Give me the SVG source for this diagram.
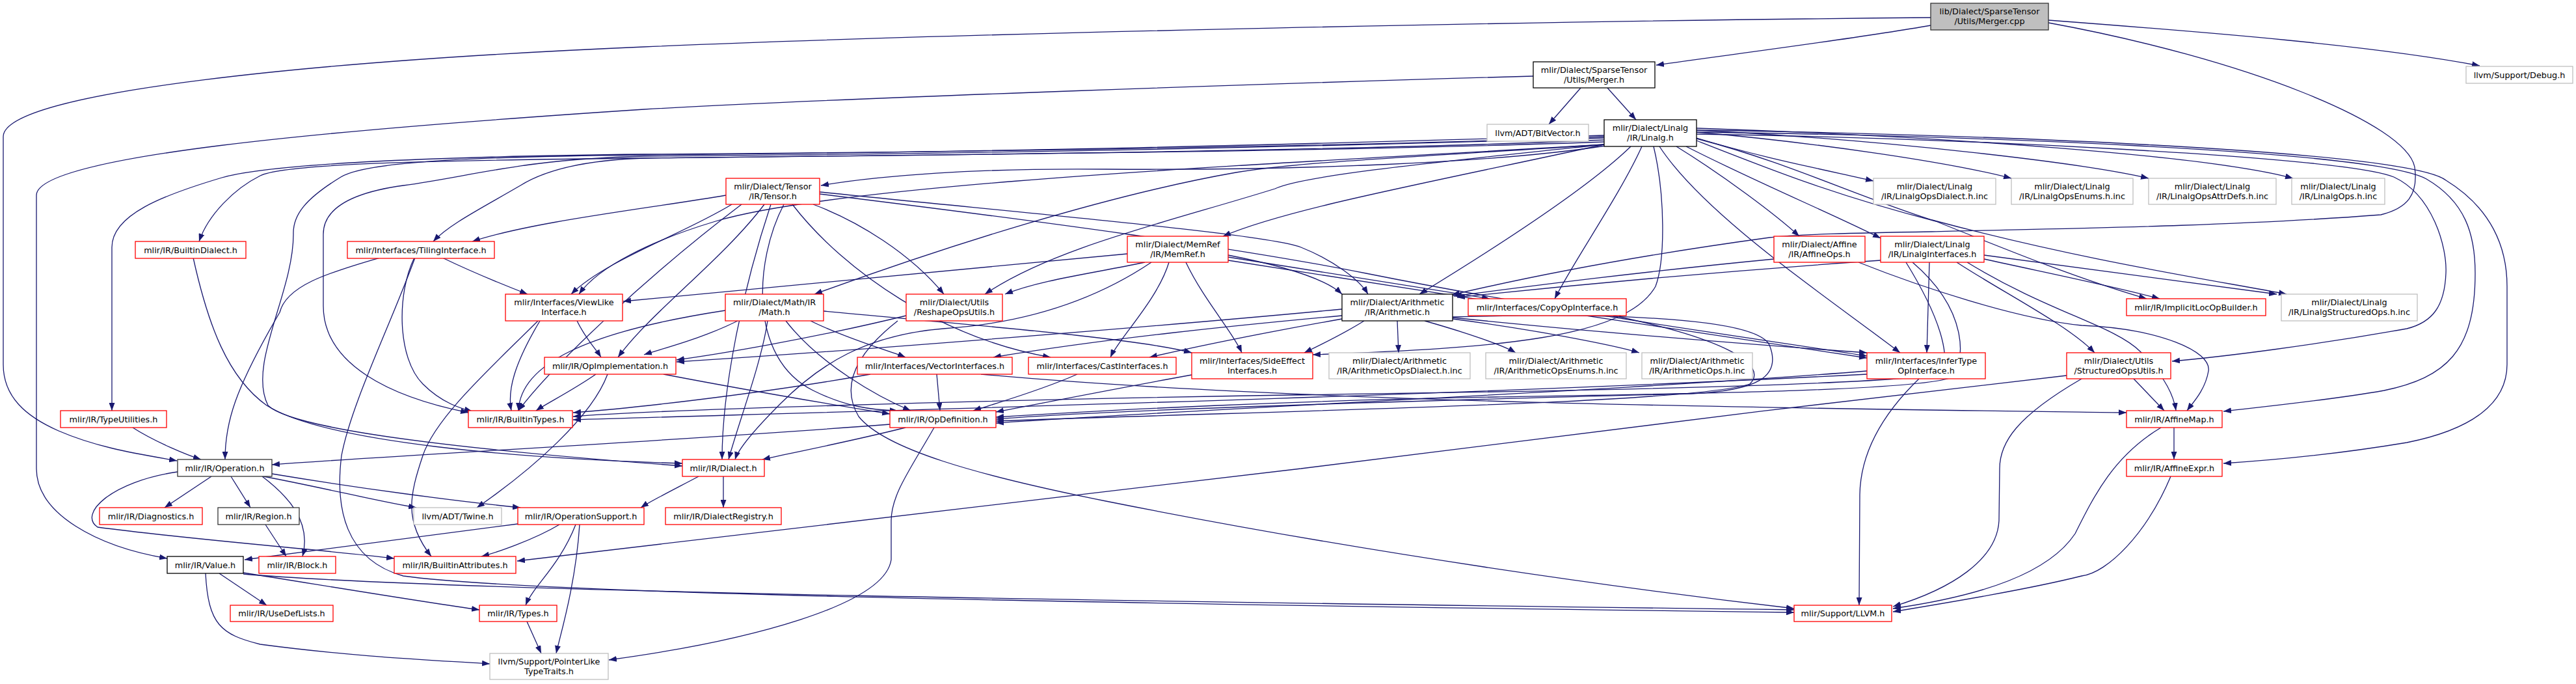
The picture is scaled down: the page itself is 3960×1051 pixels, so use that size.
<svg xmlns="http://www.w3.org/2000/svg" width="3960" height="1051" viewBox="0 0 3960 1051">
<defs>
<marker id="a" viewBox="0 0 12 9" refX="12" refY="4.5" markerWidth="12" markerHeight="9" markerUnits="userSpaceOnUse" orient="auto"><path d="M0,0 L12,4.5 L0,9 z" fill="#191970"/></marker>
</defs>
<style>
rect{fill:#fff;stroke-width:1.3}
.r rect{stroke:#ff0000}
.k rect{stroke:#000}
.g rect{stroke:#bfbfbf}
.d rect{stroke:#333}
text{font-family:"DejaVu Sans",sans-serif;font-size:12.8px;text-anchor:middle;fill:#000}
#edges path{fill:none;stroke:#191970;stroke-width:1.3;marker-end:url(#a)}
</style>
<rect x="0" y="0" width="3960" height="1051" style="fill:#fff;stroke:none"/>
<g id="edges">
<path d="M2968,39 C2850,60 2650,85 2546,100"/>
<path d="M3149,31 C3400,50 3650,70 3812,101"/>
<path d="M2968,27 C2400,32 1500,50 990,72 C500,93 5,140 5,210 L5,560 C5,610 40,640 90,662 C150,688 210,697 272,708"/>
<path d="M3149,35 C3450,90 3700,190 3712,257 C3718,300 3700,320 3660,330 C3400,350 3100,352 2970,356 C2850,358 2760,360 2720,365 C2500,395 2330,430 2232,453"/>
<path d="M2430,135 L2381,191"/>
<path d="M2471,135 L2515,184"/>
<path d="M2357,117 C2000,127 1300,150 990,168 C500,200 56,240 56,300 L56,720 C56,790 150,840 257,858"/>
<path d="M2468,224 C2300,250 2000,262 1700,260 C1500,258 1350,270 1262,285"/>
<path d="M2466,215 C2000,235 1200,240 990,243 C700,246 440,250 400,270 C360,290 320,330 306,371"/>
<path d="M2466,210 C2000,228 1300,235 990,237 C700,240 420,250 341,273 C250,300 172,330 172,380 L172,631"/>
<path d="M2466,218 C2000,235 1200,240 990,243 C900,246 840,260 800,285 C740,320 690,345 666,371"/>
<path d="M1116,300 C1000,320 820,340 726,371"/>
<path d="M2466,222 C2000,250 1300,280 1100,340 C1000,370 920,410 890,452"/>
<path d="M1125,314 C1050,360 930,400 878,452"/>
<path d="M2466,212 C1800,232 1300,238 990,240 C800,245 730,270 620,285 C540,296 497,320 497,360 L497,470 C497,560 600,610 720,634"/>
<path d="M2466,208 C1800,228 1300,236 990,238 C700,241 560,250 524,272 C470,305 450,330 451,360 C451,450 380,560 412,623 C450,660 700,690 1049,716"/>
<path d="M2466,222 C2200,280 1980,320 1880,363"/>
<path d="M2466,222 C2200,240 2000,248 1900,265 C1700,300 1450,380 1252,452"/>
<path d="M2466,222 C2200,250 2000,270 1960,290 C1800,340 1620,380 1514,452"/>
<path d="M1250,314 C1320,340 1400,390 1451,452"/>
<path d="M1760,403 C1680,420 1600,430 1545,452"/>
<path d="M2507,225 C2440,290 2300,380 2182,452"/>
<path d="M2524,225 C2490,300 2420,400 2390,459"/>
<path d="M2542,225 C2560,300 2560,400 2545,440 C2500,520 2300,535 2018,545"/>
<path d="M2577,225 C2650,270 2730,330 2766,363"/>
<path d="M2592,225 C2700,280 2820,330 2891,366"/>
<path d="M2551,225 C2620,330 2800,450 2921,542"/>
<path d="M2608,212 C2700,240 2800,260 2880,278"/>
<path d="M2608,203 C2800,220 3000,250 3092,274"/>
<path d="M2608,200 C2900,215 3200,250 3303,274"/>
<path d="M2608,197 C3000,210 3400,240 3525,274"/>
<path d="M2608,213 C2750,250 2850,300 2970,338 C3200,400 3400,430 3515,452"/>
<path d="M2608,216 C2720,260 2820,300 2976,340 C3100,390 3200,430 3300,459"/>
<path d="M2608,206 C3000,212 3600,240 3680,272 C3740,300 3762,380 3760,420 C3758,470 3740,495 3700,505 C3560,530 3420,548 3339,555"/>
<path d="M2608,203 C3000,208 3650,230 3730,275 C3790,310 3805,360 3805,420 C3805,540 3760,580 3665,600 C3580,615 3480,625 3418,632"/>
<path d="M2608,200 C3000,205 3700,230 3760,277 C3830,320 3854,380 3854,440 L3854,560 C3854,620 3800,660 3700,680 C3580,700 3480,708 3418,712"/>
<path d="M1140,314 C1000,420 850,560 797,631"/>
<path d="M1175,314 C1110,400 1000,480 950,549"/>
<path d="M1205,314 C1160,400 1150,550 1250,600 C1300,625 1340,630 1380,631"/>
<path d="M1185,314 C1140,450 1110,600 1110,706"/>
<path d="M1218,314 C1300,420 1450,520 1615,549"/>
<path d="M1260,295 C1600,330 1950,360 2000,380 C2050,400 2090,430 2103,452"/>
<path d="M1260,298 C1600,340 1900,380 2100,420 C2400,480 2700,520 2870,547"/>
<path d="M1733,390 L958,463"/>
<path d="M1770,403 C1700,450 1600,495 1450,505 C1330,515 1260,560 1200,620 C1160,660 1135,690 1130,706"/>
<path d="M1797,403 C1780,460 1720,520 1707,549"/>
<path d="M1823,403 C1850,460 1895,510 1909,542"/>
<path d="M1888,395 C2050,420 2200,445 2290,459"/>
<path d="M1888,400 C2200,450 2600,510 2870,550"/>
<path d="M1888,392 C1980,410 2040,430 2063,452"/>
<path d="M2727,398 C2500,420 2350,440 2235,455"/>
<path d="M2857,403 C2950,440 3100,490 3200,500 C3320,505 3400,540 3395,570 C3390,600 3370,620 3362,631"/>
<path d="M2891,400 C2600,420 2400,440 2240,457"/>
<path d="M2966,403 L2962,542"/>
<path d="M3050,398 C3150,420 3250,440 3320,459"/>
<path d="M3050,392 C3250,420 3400,440 3500,452"/>
<path d="M3008,403 C3080,450 3180,500 3220,542"/>
<path d="M3024,403 C3150,480 3250,500 3290,540 C3330,580 3342,610 3345,631"/>
<path d="M2930,403 C2990,500 3000,560 2980,575 C2900,590 2500,600 1980,607 C1500,615 1000,630 881,640"/>
<path d="M2940,403 C3030,480 3020,560 3000,580 C2950,600 2600,605 2300,610 C2000,615 1700,630 1531,641"/>
<path d="M2148,493 L2150,542"/>
<path d="M2190,493 C2250,510 2310,530 2330,542"/>
<path d="M2233,490 C2350,505 2480,530 2520,542"/>
<path d="M2097,493 C2070,510 2030,530 2005,542"/>
<path d="M2233,488 C2450,510 2700,530 2870,542"/>
<path d="M2063,475 C1800,500 1300,540 1040,556"/>
<path d="M2063,485 C1900,500 1700,520 1527,549"/>
<path d="M2063,490 C1950,510 1850,530 1767,549"/>
<path d="M2233,487 C2500,480 2700,490 2720,530 C2740,580 2700,600 2600,605 C2200,615 1700,630 1531,644"/>
<path d="M2480,485 C2650,520 2720,560 2690,590 C2600,620 2000,630 1531,647"/>
<path d="M2870,570 C2500,600 1900,625 1531,650"/>
<path d="M2870,575 C2200,610 1200,635 881,645"/>
<path d="M2950,582 C2890,640 2860,700 2859,760 L2858,930"/>
<path d="M3280,582 L3327,631"/>
<path d="M3200,582 C3100,640 3074,680 3074,720 L3073,800 C3070,860 3000,905 2910,932"/>
<path d="M3177,577 C2800,620 2300,680 2000,720 C1500,780 1000,840 795,862"/>
<path d="M1115,477 C900,510 800,560 797,631"/>
<path d="M1134,493 C1080,520 1020,535 990,545"/>
<path d="M1180,493 C1170,560 1135,650 1120,706"/>
<path d="M1208,493 C1260,560 1350,610 1400,631"/>
<path d="M1246,493 C1300,520 1370,540 1392,549"/>
<path d="M1266,478 C1500,500 1750,520 1832,542"/>
<path d="M1393,485 C1250,520 1100,545 1040,553"/>
<path d="M1380,493 C1320,540 1290,590 1320,640 C1360,690 1500,730 1700,770 C2100,850 2500,905 2758,935"/>
<path d="M680,396 C730,420 780,440 811,452"/>
<path d="M637,396 C610,450 610,550 650,590 C680,620 710,628 726,632"/>
<path d="M584,396 C500,420 440,440 430,480 C360,600 346,650 346,706"/>
<path d="M638,396 C600,500 540,620 525,700 C515,780 530,860 620,885 C800,910 1500,925 2758,941"/>
<path d="M887,493 C900,520 915,535 924,549"/>
<path d="M830,493 C790,560 780,600 786,631"/>
<path d="M827,493 C760,560 670,640 650,700 C630,760 620,800 663,855"/>
<path d="M297,396 C320,500 350,580 410,623 C500,680 800,705 1049,712"/>
<path d="M204,657 C240,680 290,700 309,706"/>
<path d="M916,575 C880,600 840,620 824,631"/>
<path d="M1020,575 C1150,600 1300,625 1368,636"/>
<path d="M934,575 C910,640 820,720 733,780"/>
<path d="M1338,575 C1200,600 1000,625 881,634"/>
<path d="M1440,575 L1445,631"/>
<path d="M1508,575 C2000,620 2800,628 3269,634"/>
<path d="M1656,575 C1600,600 1530,620 1496,631"/>
<path d="M1832,576 C1700,600 1600,620 1531,633"/>
<path d="M1368,652 C1000,680 600,700 418,714"/>
<path d="M1392,657 C1300,680 1220,695 1172,706"/>
<path d="M1436,657 C1400,720 1370,760 1370,800 L1370,860 C1360,930 1150,985 936,1014"/>
<path d="M1074,732 C1040,750 1000,770 985,780"/>
<path d="M1112,732 L1112,780"/>
<path d="M3342,657 L3342,706"/>
<path d="M3322,657 C3250,700 3220,760 3190,820 C3150,880 3050,915 2910,935"/>
<path d="M3337,732 C3300,820 3240,880 3200,885 C3120,905 3000,925 2910,940"/>
<path d="M325,732 L253,780"/>
<path d="M355,732 L385,780"/>
<path d="M403,732 C440,760 480,800 465,855"/>
<path d="M405,732 C500,750 580,770 640,780"/>
<path d="M418,728 C550,750 700,770 800,780"/>
<path d="M273,725 C170,740 120,790 150,810 C300,830 500,845 606,858"/>
<path d="M408,806 L440,855"/>
<path d="M796,805 C600,830 450,850 376,860"/>
<path d="M860,806 C820,830 760,850 740,855"/>
<path d="M885,806 C860,870 820,900 808,930"/>
<path d="M891,806 C885,900 860,980 855,1004"/>
<path d="M337,881 L410,930"/>
<path d="M374,880 C500,900 650,925 737,937"/>
<path d="M316,881 C320,960 340,975 400,990 C550,1010 680,1015 753,1020"/>
<path d="M374,882 C700,910 1800,925 2758,937"/>
<path d="M810,955 L832,1004"/>
</g>
<g id="mcpp"><rect x="2968" y="5" width="181" height="41" style="fill:#bfbfbf;stroke:#333"/><text x="3058.5" y="21.5">lib/Dialect/SparseTensor</text><text x="3058.5" y="36.5">/Utils/Merger.cpp</text></g>
<g id="debug" class="g"><rect x="3791" y="102" width="164" height="26"/><text x="3873" y="119.5">llvm/Support/Debug.h</text></g>
<g id="mergerh" class="k"><rect x="2357" y="95" width="187" height="40"/><text x="2450.5" y="111.5">mlir/Dialect/SparseTensor</text><text x="2450.5" y="126.5">/Utils/Merger.h</text></g>
<g id="bitvector" class="g"><rect x="2286" y="191" width="156" height="26"/><text x="2364" y="208.5">llvm/ADT/BitVector.h</text></g>
<g id="linalg" class="k"><rect x="2466" y="184" width="142" height="41"/><text x="2537" y="200.5">mlir/Dialect/Linalg</text><text x="2537" y="215.5">/IR/Linalg.h</text></g>
<g id="tensor" class="r"><rect x="1116" y="274" width="144" height="40"/><text x="1188" y="290.5">mlir/Dialect/Tensor</text><text x="1188" y="305.5">/IR/Tensor.h</text></g>
<g id="lodialect" class="g"><rect x="2880" y="274" width="188" height="40"/><text x="2974" y="290.5">mlir/Dialect/Linalg</text><text x="2974" y="305.5">/IR/LinalgOpsDialect.h.inc</text></g>
<g id="loenums" class="g"><rect x="3092" y="274" width="187" height="40"/><text x="3185.5" y="290.5">mlir/Dialect/Linalg</text><text x="3185.5" y="305.5">/IR/LinalgOpsEnums.h.inc</text></g>
<g id="loattr" class="g"><rect x="3303" y="274" width="196" height="40"/><text x="3401" y="290.5">mlir/Dialect/Linalg</text><text x="3401" y="305.5">/IR/LinalgOpsAttrDefs.h.inc</text></g>
<g id="loops" class="g"><rect x="3523" y="274" width="143" height="40"/><text x="3594.5" y="290.5">mlir/Dialect/Linalg</text><text x="3594.5" y="305.5">/IR/LinalgOps.h.inc</text></g>
<g id="builtindialect" class="r"><rect x="208" y="371" width="170" height="26"/><text x="293" y="388.5">mlir/IR/BuiltinDialect.h</text></g>
<g id="tiling" class="r"><rect x="534" y="371" width="226" height="26"/><text x="647" y="388.5">mlir/Interfaces/TilingInterface.h</text></g>
<g id="memref" class="r"><rect x="1733" y="363" width="155" height="40"/><text x="1810.5" y="379.5">mlir/Dialect/MemRef</text><text x="1810.5" y="394.5">/IR/MemRef.h</text></g>
<g id="affineops" class="r"><rect x="2727" y="363" width="140" height="40"/><text x="2797" y="379.5">mlir/Dialect/Affine</text><text x="2797" y="394.5">/IR/AffineOps.h</text></g>
<g id="linalgif" class="r"><rect x="2891" y="363" width="159" height="40"/><text x="2970.5" y="379.5">mlir/Dialect/Linalg</text><text x="2970.5" y="394.5">/IR/LinalgInterfaces.h</text></g>
<g id="viewlike" class="r"><rect x="777" y="452" width="180" height="41"/><text x="867" y="468.5">mlir/Interfaces/ViewLike</text><text x="867" y="483.5">Interface.h</text></g>
<g id="math" class="r"><rect x="1115" y="452" width="151" height="41"/><text x="1190.5" y="468.5">mlir/Dialect/Math/IR</text><text x="1190.5" y="483.5">/Math.h</text></g>
<g id="reshape" class="r"><rect x="1393" y="452" width="148" height="41"/><text x="1467" y="468.5">mlir/Dialect/Utils</text><text x="1467" y="483.5">/ReshapeOpsUtils.h</text></g>
<g id="arith" class="k"><rect x="2063" y="452" width="170" height="41"/><text x="2148" y="468.5">mlir/Dialect/Arithmetic</text><text x="2148" y="483.5">/IR/Arithmetic.h</text></g>
<g id="copyop" class="r"><rect x="2257" y="459" width="243" height="26"/><text x="2378.5" y="476.5">mlir/Interfaces/CopyOpInterface.h</text></g>
<g id="implicitloc" class="r"><rect x="3269" y="459" width="214" height="26"/><text x="3376" y="476.5">mlir/IR/ImplicitLocOpBuilder.h</text></g>
<g id="lstructops" class="g"><rect x="3507" y="452" width="209" height="41"/><text x="3611.5" y="468.5">mlir/Dialect/Linalg</text><text x="3611.5" y="483.5">/IR/LinalgStructuredOps.h.inc</text></g>
<g id="opimpl" class="r"><rect x="837" y="549" width="202" height="26"/><text x="938" y="566.5">mlir/IR/OpImplementation.h</text></g>
<g id="vector" class="r"><rect x="1318" y="549" width="238" height="26"/><text x="1437" y="566.5">mlir/Interfaces/VectorInterfaces.h</text></g>
<g id="cast" class="r"><rect x="1581" y="549" width="227" height="26"/><text x="1694.5" y="566.5">mlir/Interfaces/CastInterfaces.h</text></g>
<g id="sideeffect" class="r"><rect x="1832" y="542" width="186" height="40"/><text x="1925" y="558.5">mlir/Interfaces/SideEffect</text><text x="1925" y="573.5">Interfaces.h</text></g>
<g id="ardialect" class="g"><rect x="2043" y="542" width="217" height="40"/><text x="2151.5" y="558.5">mlir/Dialect/Arithmetic</text><text x="2151.5" y="573.5">/IR/ArithmeticOpsDialect.h.inc</text></g>
<g id="arenums" class="g"><rect x="2284" y="542" width="216" height="40"/><text x="2392" y="558.5">mlir/Dialect/Arithmetic</text><text x="2392" y="573.5">/IR/ArithmeticOpsEnums.h.inc</text></g>
<g id="arops" class="g"><rect x="2524" y="542" width="170" height="40"/><text x="2609" y="558.5">mlir/Dialect/Arithmetic</text><text x="2609" y="573.5">/IR/ArithmeticOps.h.inc</text></g>
<g id="infertype" class="r"><rect x="2870" y="542" width="182" height="40"/><text x="2961" y="558.5">mlir/Interfaces/InferType</text><text x="2961" y="573.5">OpInterface.h</text></g>
<g id="structutils" class="r"><rect x="3177" y="542" width="160" height="40"/><text x="3257" y="558.5">mlir/Dialect/Utils</text><text x="3257" y="573.5">/StructuredOpsUtils.h</text></g>
<g id="typeutil" class="r"><rect x="93" y="631" width="163" height="26"/><text x="174.5" y="648.5">mlir/IR/TypeUtilities.h</text></g>
<g id="builtintypes" class="r"><rect x="720" y="631" width="160" height="26"/><text x="800" y="648.5">mlir/IR/BuiltinTypes.h</text></g>
<g id="opdef" class="r"><rect x="1368" y="631" width="163" height="26"/><text x="1449.5" y="648.5">mlir/IR/OpDefinition.h</text></g>
<g id="affinemap" class="r"><rect x="3269" y="631" width="147" height="26"/><text x="3342.5" y="648.5">mlir/IR/AffineMap.h</text></g>
<g id="operation" class="d"><rect x="273" y="706" width="145" height="26"/><text x="345.5" y="723.5">mlir/IR/Operation.h</text></g>
<g id="dialect" class="r"><rect x="1049" y="706" width="126" height="26"/><text x="1112" y="723.5">mlir/IR/Dialect.h</text></g>
<g id="affineexpr" class="r"><rect x="3269" y="706" width="147" height="26"/><text x="3342.5" y="723.5">mlir/IR/AffineExpr.h</text></g>
<g id="diagnostics" class="r"><rect x="153" y="780" width="158" height="26"/><text x="232" y="797.5">mlir/IR/Diagnostics.h</text></g>
<g id="region" class="d"><rect x="335" y="780" width="125" height="26"/><text x="397.5" y="797.5">mlir/IR/Region.h</text></g>
<g id="twine" class="g"><rect x="636" y="780" width="135" height="26"/><text x="703.5" y="797.5">llvm/ADT/Twine.h</text></g>
<g id="opsupport" class="r"><rect x="796" y="780" width="194" height="26"/><text x="893" y="797.5">mlir/IR/OperationSupport.h</text></g>
<g id="registry" class="r"><rect x="1023" y="780" width="178" height="26"/><text x="1112" y="797.5">mlir/IR/DialectRegistry.h</text></g>
<g id="value" class="k"><rect x="257" y="855" width="117" height="26"/><text x="315.5" y="872.5">mlir/IR/Value.h</text></g>
<g id="block" class="r"><rect x="398" y="855" width="118" height="26"/><text x="457" y="872.5">mlir/IR/Block.h</text></g>
<g id="builtinattrs" class="r"><rect x="606" y="855" width="187" height="26"/><text x="699.5" y="872.5">mlir/IR/BuiltinAttributes.h</text></g>
<g id="usedef" class="r"><rect x="354" y="930" width="158" height="25"/><text x="433" y="947">mlir/IR/UseDefLists.h</text></g>
<g id="types" class="r"><rect x="737" y="930" width="119" height="25"/><text x="796.5" y="947">mlir/IR/Types.h</text></g>
<g id="llvm" class="r"><rect x="2758" y="930" width="150" height="25"/><text x="2833" y="947">mlir/Support/LLVM.h</text></g>
<g id="pointerlike" class="g"><rect x="753" y="1004" width="182" height="40"/><text x="844" y="1020.5">llvm/Support/PointerLike</text><text x="844" y="1035.5">TypeTraits.h</text></g>
</svg>
